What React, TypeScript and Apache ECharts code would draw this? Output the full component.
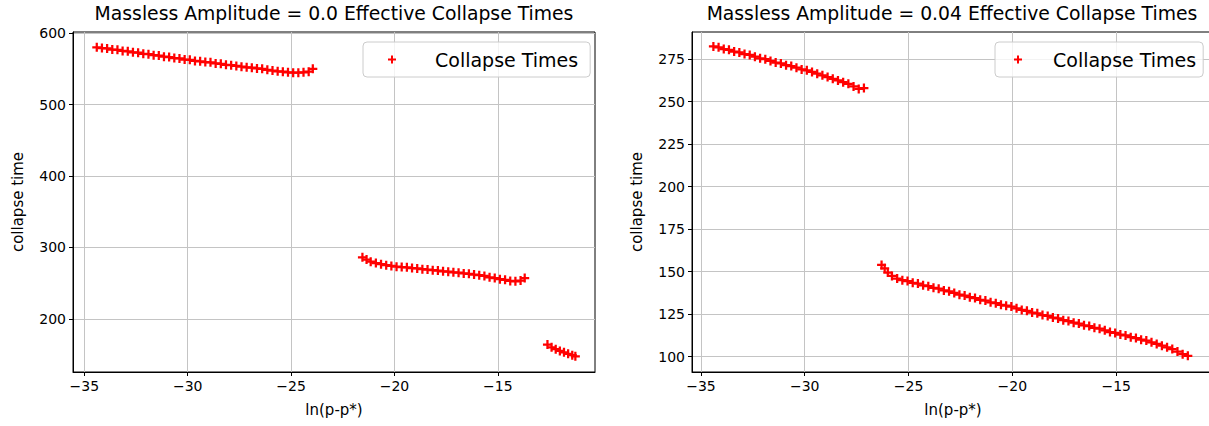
import React, { useEffect, useRef } from "react";
import * as echarts from "echarts";

// ---- Data ----
const leftTitle = "Massless Amplitude = 0.0 Effective Collapse Times";
const rightTitle = "Massless Amplitude = 0.04 Effective Collapse Times";
const seriesName = "Collapse Times";
const xAxisName = "ln(p-p*)";
const yAxisName = "collapse time";

const leftX1 = [-34.4, -34.15, -33.9, -33.65, -33.4, -33.15, -32.9, -32.65, -32.4, -32.15, -31.9, -31.65, -31.4, -31.15, -30.9, -30.65, -30.4, -30.15, -29.9, -29.65, -29.4, -29.15, -28.9, -28.65, -28.4, -28.15, -27.9, -27.65, -27.4, -27.15, -26.9, -26.65, -26.4, -26.15, -25.9, -25.65, -25.4, -25.15, -24.9, -24.65, -24.4, -24.15, -23.95];
const leftY1 = [580, 579, 578.5, 577, 576.5, 575, 574.5, 573, 572.5, 571, 570.5, 569, 568.5, 567, 566.5, 565, 564.5, 563, 562.5, 561, 560.5, 559.5, 559, 557.5, 557, 555.5, 555, 554, 553, 552, 551.5, 550.5, 550, 548.5, 547.5, 546.5, 546, 545, 544.5, 544.5, 545, 546, 550];

const leftX2 = [-21.55, -21.35, -21.15, -20.9, -20.65, -20.4, -20.15, -19.9, -19.65, -19.4, -19.15, -18.9, -18.65, -18.4, -18.15, -17.9, -17.65, -17.4, -17.15, -16.9, -16.65, -16.4, -16.15, -15.9, -15.65, -15.4, -15.15, -14.9, -14.65, -14.4, -14.15, -13.9, -13.7];
const leftY2 = [286, 283, 280, 278, 276.5, 275, 274, 273, 272.5, 272, 271, 270.5, 269.5, 269, 268, 267.5, 266.5, 266, 265, 264.5, 263.5, 263, 262, 261, 260, 258, 257, 255.5, 254.5, 253, 252.5, 253.5, 257];

const leftX3 = [-12.6, -12.4, -12.2, -12.0, -11.8, -11.6, -11.4, -11.25];
const leftY3 = [164, 160, 157.5, 155, 153, 151, 149, 147.5];

const rightX1 = [-34.4, -34.15, -33.9, -33.65, -33.4, -33.15, -32.9, -32.65, -32.4, -32.15, -31.9, -31.65, -31.4, -31.15, -30.9, -30.65, -30.4, -30.15, -29.9, -29.65, -29.4, -29.15, -28.9, -28.65, -28.4, -28.15, -27.9, -27.65, -27.4, -27.15];
const rightY1 = [282.5, 282, 281, 280.5, 279.5, 279, 278, 277.5, 276.5, 275.5, 275, 274, 273, 272.5, 271.5, 271, 270, 269, 268.5, 267.5, 266.5, 265.5, 264.5, 263.5, 262.5, 261.5, 260.5, 259, 257.5, 258];

const rightX2 = [-26.3, -26.15, -26.0, -25.8, -25.55, -25.3, -25.05, -24.8, -24.55, -24.3, -24.05, -23.8, -23.55, -23.3, -23.05, -22.8, -22.55, -22.3, -22.05, -21.8, -21.55, -21.3, -21.05, -20.8, -20.55, -20.3, -20.05, -19.8, -19.55, -19.3, -19.05, -18.8, -18.55, -18.3, -18.05, -17.8, -17.55, -17.3, -17.05, -16.8, -16.55, -16.3, -16.05, -15.8, -15.55, -15.3, -15.05, -14.8, -14.55, -14.3, -14.05, -13.8, -13.55, -13.3, -13.05, -12.8, -12.55, -12.3, -12.05, -11.8, -11.55];
const rightY2 = [154, 152, 149.5, 147.5, 146, 145, 144.5, 143.5, 143, 142, 141.5, 140.5, 140, 139, 138.5, 137.5, 136.5, 136, 135, 134.5, 133.5, 133, 132, 131.5, 130.5, 130, 129.5, 128.5, 127.5, 127, 126, 125.5, 124.5, 124, 123, 122.5, 121.5, 121, 120, 119.5, 118.5, 118, 117, 116.5, 115.5, 114.5, 114, 113, 112.5, 111.5, 111, 110, 109.5, 108.5, 107.5, 106.5, 105.5, 104.5, 103, 101.5, 100.5];

const xTicks = [-35, -30, -25, -20, -15];
const leftYTicks = [200, 300, 400, 500, 600];
const rightYTicks = [100, 125, 150, 175, 200, 225, 250, 275];

const leftXRange = [-35.55, -10.3];
const rightXRange = [-35.43, -10.29];
const leftYRange = [125.5, 601.5];
const rightYRange = [91, 291];

// ---- helpers ----
const zip = (xs: number[], ys: number[]) => xs.map((x, i) => [x, ys[i]]);
const FONT = "DejaVu Sans";
const PLUS = "path://M3,0H5V3H8V5H5V8H3V5H0V3H3Z";
const minus = (v: number) => (v < 0 ? "\u2212" + Math.abs(v) : String(v));

function makeXAxis(gridIndex: number, range: number[]) {
  return {
    type: "value",
    gridIndex,
    min: range[0],
    max: range[1],
    minInterval: 5,
    maxInterval: 5,
    name: xAxisName,
    nameLocation: "middle",
    nameGap: 30,
    nameTextStyle: { fontFamily: FONT, fontSize: 15, color: "#000" },
    axisLine: { show: true, onZero: false, lineStyle: { color: "#000", width: 1 } },
    axisTick: { show: true, inside: false, length: 4, customValues: xTicks, lineStyle: { color: "#000" } },
    axisLabel: {
      customValues: xTicks,
      margin: 7,
      fontFamily: FONT,
      fontSize: 14,
      color: "#000",
      formatter: (v: number) => (Math.abs(v % 5) > 1e-6 ? "" : minus(v)),
    },
    splitLine: { show: true, lineStyle: { color: "#c4c4c4", width: 1 } },
  };
}

function makeYAxis(gridIndex: number, range: number[], ticks: number[], step: number) {
  return {
    type: "value",
    gridIndex,
    min: range[0],
    max: range[1],
    minInterval: step,
    maxInterval: step,
    name: yAxisName,
    nameLocation: "middle",
    nameGap: 48,
    nameRotate: 90,
    nameTextStyle: { fontFamily: FONT, fontSize: 15, color: "#000" },
    axisLine: { show: true, onZero: false, lineStyle: { color: "#000", width: 1 } },
    axisTick: { show: true, inside: false, length: 4, customValues: ticks, lineStyle: { color: "#000" } },
    axisLabel: {
      customValues: ticks,
      margin: 7,
      fontFamily: FONT,
      fontSize: 14,
      color: "#000",
      formatter: (v: number) => (Math.abs(v % step) > 1e-6 ? "" : String(v)),
    },
    splitLine: { show: true, lineStyle: { color: "#c4c4c4", width: 1 } },
  };
}

function makeSeries(xi: number, data: number[][]) {
  return {
    type: "scatter",
    name: seriesName,
    xAxisIndex: xi,
    yAxisIndex: xi,
    data,
    symbol: PLUS,
    symbolSize: 9,
    itemStyle: { color: "#ff0000", opacity: 1 },
    emphasis: { disabled: true },
  };
}

function makeLegend(left: number, padLeft: number, padRight: number, textGap: number) {
  return {
    show: true,
    data: [{ name: seriesName, icon: PLUS }],
    left,
    top: 42,
    orient: "horizontal",
    itemWidth: 8,
    itemHeight: 8,
    padding: [8, padRight, 8, padLeft],
    backgroundColor: "rgba(255,255,255,0.8)",
    borderColor: "#cccccc",
    borderWidth: 1,
    borderRadius: 4,
    selectedMode: false,
    textStyle: { fontFamily: FONT, fontSize: 19, color: "#000", padding: [0, 0, 0, textGap] },
  };
}

export default function App() {
  const ref = useRef<HTMLDivElement>(null);
  useEffect(() => {
    if (!ref.current) return;
    const chart = echarts.init(ref.current, undefined, { renderer: "svg" });
    const grid = (left: number) => ({
      left,
      top: 32,
      width: 522,
      height: 340,
      show: true,
      borderColor: "#000",
      borderWidth: 1,
      backgroundColor: "transparent",
      containLabel: false,
      outerBoundsMode: "none",
    });
    chart.setOption({
      animation: false,
      backgroundColor: "#ffffff",
      textStyle: { fontFamily: FONT },
      title: [
        {
          text: leftTitle,
          left: 334,
          top: 4,
          textAlign: "center",
          padding: 0,
          textStyle: { fontFamily: FONT, fontSize: 18.8, fontWeight: "normal", color: "#000" },
        },
        {
          text: rightTitle,
          left: 952,
          top: 4,
          textAlign: "center",
          padding: 0,
          textStyle: { fontFamily: FONT, fontSize: 18.8, fontWeight: "normal", color: "#000" },
        },
      ],
      legend: [makeLegend(363, 25, 12, 34), makeLegend(995, 19, 7, 26)],
      grid: [grid(73), grid(692)],
      xAxis: [makeXAxis(0, leftXRange), makeXAxis(1, rightXRange)],
      yAxis: [
        makeYAxis(0, leftYRange, leftYTicks, 100),
        makeYAxis(1, rightYRange, rightYTicks, 25),
      ],
      series: [
        makeSeries(0, zip(leftX1, leftY1)),
        makeSeries(0, zip(leftX2, leftY2)),
        makeSeries(0, zip(leftX3, leftY3)),
        makeSeries(1, zip(rightX1, rightY1)),
        makeSeries(1, zip(rightX2, rightY2)),
      ],
    });
    return () => chart.dispose();
  }, []);
  return (
    <div
      ref={ref}
      style={{ position: "absolute", left: 0, top: 0, width: 1209, height: 426, overflow: "hidden" }}
    />
  );
}
